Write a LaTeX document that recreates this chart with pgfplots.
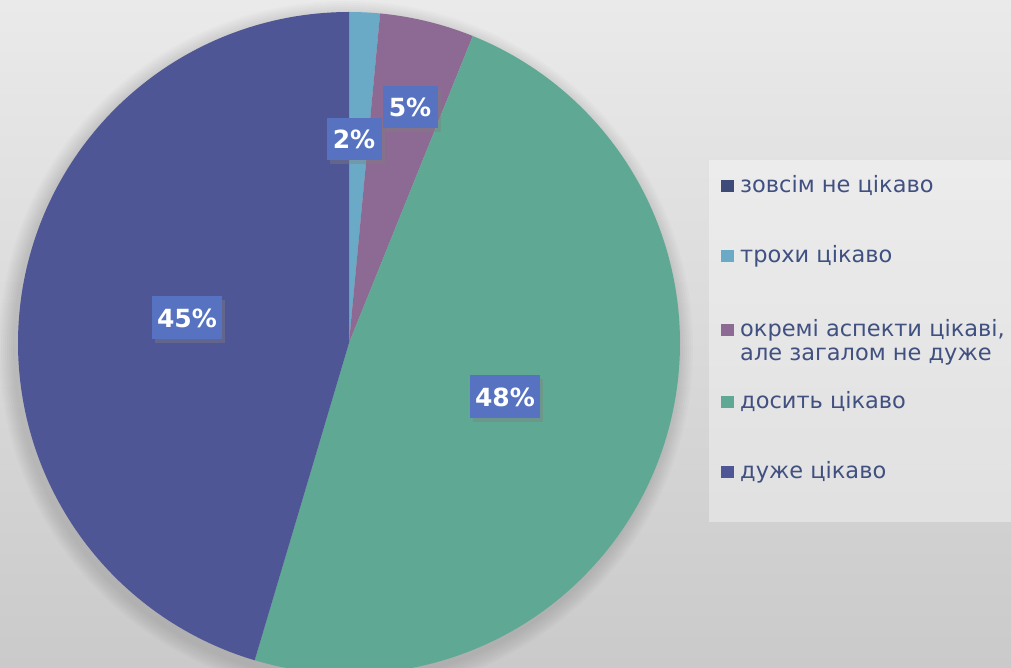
\documentclass[border=0pt]{standalone}
\usepackage{pgfplots}
\pgfplotsset{compat=1.18}
\usepackage{pgfplotstable}
\usepackage{fontspec}
\setmainfont{DejaVu Sans}
\usetikzlibrary{shadows}

\definecolor{sNavy}{RGB}{62,74,120}
\definecolor{sLight}{RGB}{106,170,198}
\definecolor{sPurple}{RGB}{140,106,147}
\definecolor{sGreen}{RGB}{95,168,148}
\definecolor{sBlue}{RGB}{78,86,150}
\definecolor{lblbox}{RGB}{86,114,192}
\definecolor{legtext}{RGB}{64,80,128}

% shares in percent, clockwise from the top
\pgfplotstableread{
value
0
1.5
4.6
48.5
45.4
}\piedata

\begin{document}
\begin{tikzpicture}
\pgfplotstablegetelem{0}{value}\of\piedata \pgfmathsetmacro\aA{90-3.6*\pgfplotsretval}
\pgfplotstablegetelem{1}{value}\of\piedata \pgfmathsetmacro\aB{\aA-3.6*\pgfplotsretval}
\pgfplotstablegetelem{2}{value}\of\piedata \pgfmathsetmacro\aC{\aB-3.6*\pgfplotsretval}
\pgfplotstablegetelem{3}{value}\of\piedata \pgfmathsetmacro\aD{\aC-3.6*\pgfplotsretval}
\pgfplotstablegetelem{4}{value}\of\piedata \pgfmathsetmacro\aE{\aD-3.6*\pgfplotsretval}
\begin{axis}[
    width=1011pt, height=668pt, scale only axis,
    xmin=0, xmax=1011, ymin=0, ymax=668,
    hide axis, clip=true,
    axis background/.style={shade, top color={rgb,255:red,234;green,234;blue,234}, bottom color={rgb,255:red,202;green,202;blue,202}},
]
% soft shadow round the pie
\pgfplotsinvokeforeach{2,4,...,16}{
  \fill[black, opacity=0.014] (axis cs:346,320) circle[radius={331+#1}];
}
\addplot[draw=none, fill=sLight, domain=\aB:\aA, samples=10]
  ({349+331*cos(x)},{325+331*sin(x)}) -- (axis cs:349,325) -- cycle;
\addplot[draw=none, fill=sPurple, domain=\aC:\aB, samples=20]
  ({349+331*cos(x)},{325+331*sin(x)}) -- (axis cs:349,325) -- cycle;
\addplot[draw=none, fill=sGreen, domain=\aD:\aC, samples=150]
  ({349+331*cos(x)},{325+331*sin(x)}) -- (axis cs:349,325) -- cycle;
\addplot[draw=none, fill=sBlue, domain=\aE:\aD, samples=150]
  ({349+331*cos(x)},{325+331*sin(x)}) -- (axis cs:349,325) -- cycle;

% data labels
\tikzset{lbl/.style={fill=lblbox, text=white, inner sep=0pt,
  font=\bfseries\fontsize{25}{27}\selectfont,
  drop shadow={shadow xshift=3pt, shadow yshift=-4pt, opacity=0.4}}}
\node[lbl, minimum width=55pt, minimum height=42pt] at (axis cs:354,529) {2\%};
\node[lbl, minimum width=55pt, minimum height=42pt] at (axis cs:410,561) {5\%};
\node[lbl, minimum width=70pt, minimum height=43pt] at (axis cs:187,350) {45\%};
\node[lbl, minimum width=70pt, minimum height=43pt] at (axis cs:505,271) {48\%};

% legend
\fill[white, opacity=0.35] (axis cs:709,146) rectangle (axis cs:1011,508);
\tikzset{legtxt/.style={anchor=west, inner sep=0pt, text=legtext,
  font=\fontsize{22.5}{27}\selectfont}}
\fill[sNavy]   (axis cs:721,476) rectangle (axis cs:734,488);
\node[legtxt] at (axis cs:740,482) {зовсім не цікаво};
\fill[sLight]  (axis cs:721,406) rectangle (axis cs:734,418);
\node[legtxt] at (axis cs:740,412) {трохи цікаво};
\fill[sPurple] (axis cs:721,332) rectangle (axis cs:734,344);
\node[legtxt] at (axis cs:740,338) {окремі аспекти цікаві,};
\node[legtxt] at (axis cs:740,311) {але загалом не дуже};
\fill[sGreen]  (axis cs:721,260) rectangle (axis cs:734,272);
\node[legtxt] at (axis cs:740,266) {досить цікаво};
\fill[sBlue]   (axis cs:721,190) rectangle (axis cs:734,202);
\node[legtxt] at (axis cs:740,196) {дуже цікаво};
\end{axis}
\end{tikzpicture}
\end{document}
